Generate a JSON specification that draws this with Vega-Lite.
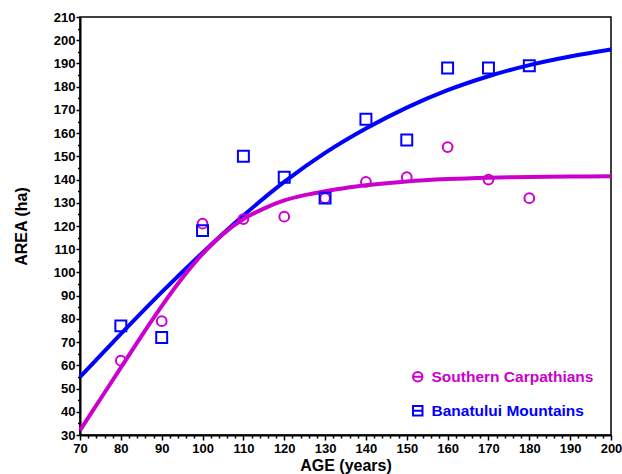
{
  "$schema": "https://vega.github.io/schema/vega-lite/v6.json",
  "autosize": {"type": "none"},
  "padding": {"left": 80, "top": 17, "right": 11, "bottom": 39},
  "width": 531,
  "height": 418,
  "background": "white",
  "config": {
    "view": {"stroke": "black", "strokeWidth": 1.5},
    "font": "Liberation Sans",
    "axis": {
      "domainColor": "black", "domainWidth": 2, "tickColor": "black", "tickWidth": 1.5,
      "labelFont": "Liberation Sans", "labelFontWeight": "bold", "labelFontSize": 13, "labelColor": "black",
      "titleFont": "Liberation Sans", "titleFontWeight": "bold", "titleFontSize": 16, "titleColor": "black",
      "grid": false, "labelOverlap": false, "labelFlush": false
    }
  },
  "datasets": {
    "points": [
      {"series": "Banatului Mountains", "age": 80, "area": 77},
      {"series": "Banatului Mountains", "age": 90, "area": 72},
      {"series": "Banatului Mountains", "age": 100, "area": 118},
      {"series": "Banatului Mountains", "age": 110, "area": 150},
      {"series": "Banatului Mountains", "age": 120, "area": 141},
      {"series": "Banatului Mountains", "age": 130, "area": 132},
      {"series": "Banatului Mountains", "age": 140, "area": 166},
      {"series": "Banatului Mountains", "age": 150, "area": 157},
      {"series": "Banatului Mountains", "age": 160, "area": 188},
      {"series": "Banatului Mountains", "age": 170, "area": 188},
      {"series": "Banatului Mountains", "age": 180, "area": 189},
      {"series": "Southern Carpathians", "age": 80, "area": 62},
      {"series": "Southern Carpathians", "age": 90, "area": 79},
      {"series": "Southern Carpathians", "age": 100, "area": 121},
      {"series": "Southern Carpathians", "age": 110, "area": 123},
      {"series": "Southern Carpathians", "age": 120, "area": 124},
      {"series": "Southern Carpathians", "age": 130, "area": 132},
      {"series": "Southern Carpathians", "age": 140, "area": 139},
      {"series": "Southern Carpathians", "age": 150, "area": 141},
      {"series": "Southern Carpathians", "age": 160, "area": 154},
      {"series": "Southern Carpathians", "age": 170, "area": 140},
      {"series": "Southern Carpathians", "age": 180, "area": 132}
    ],
    "curves": [
      {"series": "Banatului Mountains", "age": 70, "area": 55},
      {"series": "Banatului Mountains", "age": 80, "area": 73.5},
      {"series": "Banatului Mountains", "age": 90, "area": 91.5},
      {"series": "Banatului Mountains", "age": 100, "area": 108.5},
      {"series": "Banatului Mountains", "age": 110, "area": 124.5},
      {"series": "Banatului Mountains", "age": 120, "area": 139},
      {"series": "Banatului Mountains", "age": 130, "area": 151.5},
      {"series": "Banatului Mountains", "age": 140, "area": 162},
      {"series": "Banatului Mountains", "age": 150, "area": 171},
      {"series": "Banatului Mountains", "age": 160, "area": 178.5},
      {"series": "Banatului Mountains", "age": 170, "area": 184.5},
      {"series": "Banatului Mountains", "age": 180, "area": 189.3},
      {"series": "Banatului Mountains", "age": 190, "area": 193},
      {"series": "Banatului Mountains", "age": 200, "area": 196},
      {"series": "Southern Carpathians", "age": 70, "area": 32},
      {"series": "Southern Carpathians", "age": 75, "area": 45.5},
      {"series": "Southern Carpathians", "age": 80, "area": 59},
      {"series": "Southern Carpathians", "age": 85, "area": 72.5},
      {"series": "Southern Carpathians", "age": 90, "area": 85.5},
      {"series": "Southern Carpathians", "age": 95, "area": 97.5},
      {"series": "Southern Carpathians", "age": 100, "area": 108},
      {"series": "Southern Carpathians", "age": 105, "area": 116.5},
      {"series": "Southern Carpathians", "age": 110, "area": 123},
      {"series": "Southern Carpathians", "age": 115, "area": 127.5},
      {"series": "Southern Carpathians", "age": 120, "area": 131},
      {"series": "Southern Carpathians", "age": 125, "area": 133.3},
      {"series": "Southern Carpathians", "age": 130, "area": 135},
      {"series": "Southern Carpathians", "age": 135, "area": 136.4},
      {"series": "Southern Carpathians", "age": 140, "area": 137.5},
      {"series": "Southern Carpathians", "age": 150, "area": 139.2},
      {"series": "Southern Carpathians", "age": 160, "area": 140.2},
      {"series": "Southern Carpathians", "age": 170, "area": 140.8},
      {"series": "Southern Carpathians", "age": 180, "area": 141.1},
      {"series": "Southern Carpathians", "age": 190, "area": 141.3},
      {"series": "Southern Carpathians", "age": 200, "area": 141.4}
    ]
  },
  "encoding": {
    "x": {
      "field": "age", "type": "quantitative",
      "scale": {"domain": [70, 200], "nice": false, "zero": false},
      "axis": {
        "title": "AGE (years)",
        "values": [70,72,74,76,78,80,82,84,86,88,90,92,94,96,98,100,102,104,106,108,110,112,114,116,118,120,122,124,126,128,130,132,134,136,138,140,142,144,146,148,150,152,154,156,158,160,162,164,166,168,170,172,174,176,178,180,182,184,186,188,190,192,194,196,198,200],
        "labelExpr": "datum.value % 10 === 0 ? datum.label : ''",
        "tickSize": {"condition": {"test": "datum.value % 10 === 0", "value": 5}, "value": 3},
        "labelPadding": 2,
        "titlePadding": 2
      }
    },
    "y": {
      "field": "area", "type": "quantitative",
      "scale": {"domain": [30, 210], "nice": false, "zero": false},
      "axis": {
        "title": "AREA (ha)",
        "values": [30,35,40,45,50,55,60,65,70,75,80,85,90,95,100,105,110,115,120,125,130,135,140,145,150,155,160,165,170,175,180,185,190,195,200,205,210],
        "labelExpr": "datum.value % 10 === 0 ? datum.label : ''",
        "tickSize": {"condition": {"test": "datum.value % 10 === 0", "value": 4}, "value": 2.5},
        "labelPadding": 1,
        "titleX": -59,
        "titleBaseline": "middle"
      }
    },
    "color": {
      "field": "series", "type": "nominal",
      "scale": {"domain": ["Southern Carpathians", "Banatului Mountains"], "range": ["#CC00CC", "#0000FF"]},
      "legend": {
        "title": null,
        "orient": "none",
        "legendX": 330,
        "legendY": 352,
        "padding": 0,
        "rowPadding": 16,
        "labelFont": "Liberation Sans",
        "labelFontWeight": "bold",
        "labelFontSize": 15.5,
        "labelLimit": 400,
        "symbolSize": 90,
        "symbolStrokeWidth": 2,
        "labelOffset": 6,
        "symbolType": "M-1,0A1,1,0,1,1,1,0A1,1,0,1,1,-1,0Z M-1,0H1",
        "encode": {
          "symbols": {"update": {
            "stroke": {"signal": "datum.value === 'Southern Carpathians' ? '#CC00CC' : '#0000FF'"},
            "fill": {"value": "transparent"},
            "shape": {"signal": "datum.value === 'Southern Carpathians' ? 'M-1,0A1,1,0,1,1,1,0A1,1,0,1,1,-1,0Z M-1,0H1' : 'M-1,-1H1V1H-1Z M-1,0H1'"}
          }},
          "labels": {"update": {
            "fill": {"signal": "datum.value === 'Southern Carpathians' ? '#CC00CC' : '#0000FF'"}
          }}
        }
      }
    }
  },
  "layer": [
    {
      "data": {"name": "curves"},
      "mark": {"type": "line", "strokeWidth": 4, "interpolate": "monotone"}
    },
    {
      "data": {"name": "points"},
      "transform": [{"filter": "datum.series === 'Southern Carpathians'"}],
      "mark": {"type": "point", "filled": false, "opacity": 1, "strokeWidth": 2, "shape": "circle", "size": 95}
    },
    {
      "data": {"name": "points"},
      "transform": [{"filter": "datum.series === 'Banatului Mountains'"}],
      "mark": {"type": "point", "filled": false, "opacity": 1, "strokeWidth": 2, "shape": "square", "size": 120}
    }
  ]
}
